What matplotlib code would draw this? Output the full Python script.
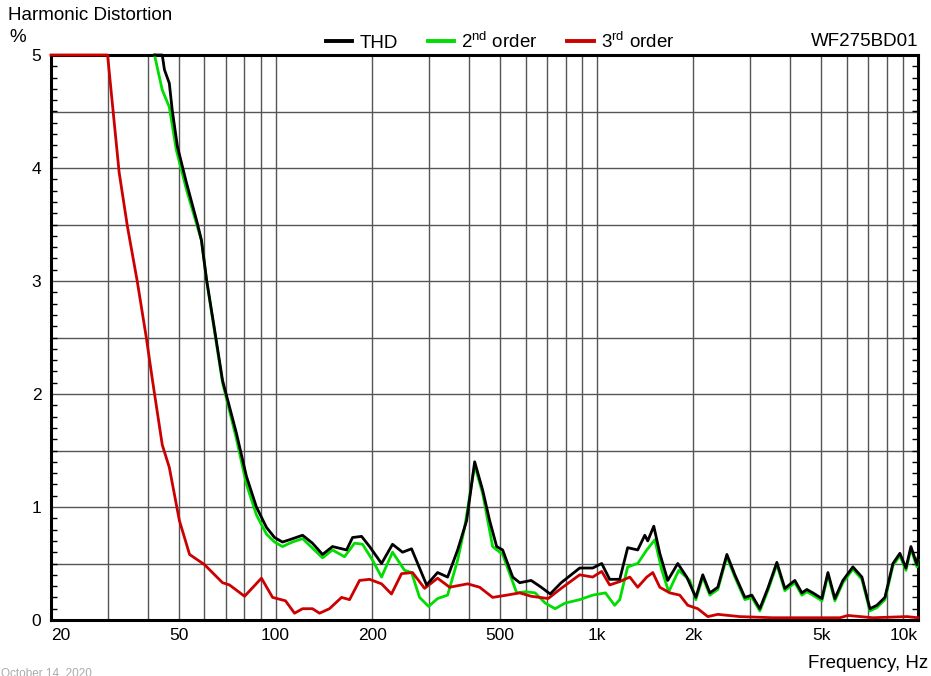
import matplotlib
matplotlib.use('Agg')
import matplotlib.pyplot as plt
from matplotlib.ticker import FixedLocator, MultipleLocator, NullFormatter

plt.rcParams['font.family'] = ['Liberation Sans', 'DejaVu Sans']
plt.rcParams['mathtext.fontset'] = 'custom'
plt.rcParams['mathtext.rm'] = 'Liberation Sans'

# THD
thd_f = [42.0, 44.4, 45.1, 46.7, 47.7, 49.5, 52.8, 57.1, 58.8, 61.0, 64.6, 68.4,
         75.6, 81.2, 87.2, 93.7, 99.3, 105.1, 110.5, 121.4, 130.3, 140.1, 150.4,
         166.4, 173.7, 185.3, 196.2, 213.8, 231.3, 248.5, 265.1, 295.3, 319.5,
         343.3, 368.9, 393.5, 416.8, 441.3, 464.0, 488.0, 509.4, 547.4, 575.6,
         624.8, 671.5, 716.1, 774.8, 884.9, 971.2, 1036, 1097, 1179, 1248, 1341,
         1411, 1441, 1505, 1571, 1663, 1787, 1906, 2034, 2138, 2249, 2381, 2541,
         2691, 2891, 3039, 3218, 3408, 3636, 3850, 4136, 4349, 4508, 4708, 5022,
         5243, 5511, 5837, 6271, 6690, 7085, 7447, 7888, 8354, 8784, 9172, 9506,
         9924, 10000]
thd_v = [5.0, 5.0, 4.87, 4.75, 4.51, 4.19, 3.87, 3.51, 3.36, 3.01, 2.57, 2.12,
         1.65, 1.27, 1.00, 0.82, 0.73, 0.69, 0.71, 0.75, 0.68, 0.58, 0.65,
         0.62, 0.73, 0.74, 0.65, 0.50, 0.67, 0.60, 0.63, 0.31, 0.42,
         0.38, 0.62, 0.88, 1.40, 1.15, 0.88, 0.65, 0.62, 0.38, 0.33,
         0.35, 0.29, 0.23, 0.33, 0.46, 0.46, 0.50, 0.36, 0.36, 0.64, 0.62,
         0.75, 0.70, 0.83, 0.59, 0.35, 0.50, 0.38, 0.20, 0.40, 0.24, 0.29, 0.58,
         0.40, 0.20, 0.22, 0.10, 0.28, 0.51, 0.28, 0.35, 0.24, 0.27, 0.24, 0.19,
         0.42, 0.19, 0.35, 0.47, 0.38, 0.10, 0.13, 0.20, 0.50, 0.59, 0.46, 0.65,
         0.49, 0.55]

# 2nd order
h2_f = [42.0, 44.4, 46.7, 49.1, 52.8, 56.7, 58.8, 61.0, 64.6, 68.4, 75.6, 81.2,
        87.2, 93.7, 99.3, 105.1, 112.9, 121.4, 140.1, 150.4, 164.0, 176.2, 186.6,
        200.4, 213.8, 231.3, 252.1, 265.1, 280.8, 299.5, 319.5, 343.3, 368.9,
        387.9, 416.8, 441.3, 474.1, 509.4, 563.3, 601.2, 643.0, 690.8, 742.1,
        797.4, 884.9, 971.2, 1064, 1137, 1179, 1248, 1341, 1431, 1516, 1594,
        1675, 1800, 1948, 2034, 2138, 2249, 2381, 2541, 2691, 2891, 3039, 3218,
        3408, 3636, 3850, 4136, 4349, 4508, 4708, 5022, 5243, 5511, 5837, 6271,
        6690, 7085, 7447, 7888, 8354, 8784, 9172, 9506, 9924, 10000]
h2_v = [5.0, 4.69, 4.54, 4.16, 3.81, 3.51, 3.36, 3.01, 2.55, 2.10, 1.60, 1.20,
        0.93, 0.76, 0.69, 0.65, 0.69, 0.72, 0.55, 0.62, 0.56, 0.68, 0.67,
        0.53, 0.38, 0.60, 0.44, 0.42, 0.20, 0.12, 0.19, 0.22, 0.53,
        0.82, 1.37, 1.12, 0.65, 0.58, 0.24, 0.25, 0.24, 0.15, 0.10,
        0.15, 0.18, 0.22, 0.24, 0.13, 0.18, 0.47, 0.50, 0.62, 0.71, 0.44,
        0.25, 0.44, 0.35, 0.18, 0.38, 0.22, 0.27, 0.56, 0.38, 0.18, 0.20, 0.08,
        0.26, 0.49, 0.26, 0.33, 0.22, 0.25, 0.22, 0.17, 0.40, 0.17, 0.33, 0.45,
        0.36, 0.08, 0.11, 0.18, 0.48, 0.57, 0.44, 0.63, 0.47, 0.53]

# 3rd order
h3_f = [20, 30, 32.6, 34.6, 37.1, 39.6, 41.4, 44.4, 46.7, 50.2, 54.0, 60.1, 68.4,
        71.9, 80.1, 90.4, 97.9, 107.4, 114.6, 121.4, 130.3, 137.1, 147.2, 160.5,
        170.0, 182.6, 196.2, 213.8, 229.6, 246.7, 267.0, 291.1, 319.5, 348.3,
        396.3, 431.9, 474.1, 524.3, 575.6, 624.8, 705.8, 774.8, 884.9, 971.2,
        1036, 1097, 1179, 1267, 1341, 1431, 1494, 1571, 1688, 1813, 1920, 2063,
        2217, 2381, 2788, 3533, 5713, 6050, 7239, 9238, 10000]
h3_v = [5.0, 5.0, 3.96, 3.48, 3.0, 2.5, 2.12, 1.55, 1.35, 0.88, 0.58, 0.49, 0.33,
        0.31, 0.21, 0.37, 0.20, 0.17, 0.06, 0.10, 0.10, 0.06, 0.10, 0.20,
        0.18, 0.35, 0.36, 0.32, 0.23, 0.41, 0.42, 0.28, 0.37, 0.29,
        0.32, 0.29, 0.20, 0.22, 0.24, 0.21, 0.19, 0.28, 0.40, 0.38,
        0.43, 0.31, 0.34, 0.38, 0.29, 0.38, 0.42, 0.29, 0.24, 0.22, 0.13, 0.10,
        0.03, 0.05, 0.03, 0.02, 0.02, 0.04, 0.02, 0.03, 0.02]

xgrid = [30, 40, 50, 60, 70, 80, 90, 100, 200, 300, 400, 500, 600, 700, 800, 900,
         1000, 2000, 3000, 4000, 5000, 6000, 7000, 8000, 9000]
xtick_vals = [20, 50, 100, 200, 500, 1000, 2000, 5000, 10000]
xtick_labels = ['20', '50', '100', '200', '500', '1k', '2k', '5k', '10k']

fig = plt.figure(figsize=(9.31, 6.76), dpi=100)
ax = fig.add_axes([51 / 931, 56 / 676, 867 / 931, 565 / 676])

ax.set_xscale('log')
ax.set_xlim(20, 10000)
ax.set_ylim(0, 5)

for xv in xgrid:
    ax.axvline(xv, color='#555555', lw=1.0, zorder=1)
for yv in [0.5, 1, 1.5, 2, 2.5, 3, 3.5, 4, 4.5]:
    ax.axhline(yv, color='#555555', lw=1.0, zorder=1)

l2, = ax.plot(h2_f, h2_v, color='#00dd00', lw=2.0, zorder=6, clip_on=False,
              label='2$^{\\mathrm{nd}}$ order', solid_joinstyle='round')
l3, = ax.plot(h3_f, h3_v, color='#cc0000', lw=2.0, zorder=6, clip_on=False,
              label='3$^{\\mathrm{rd}}$ order', solid_joinstyle='round')
l1, = ax.plot(thd_f, thd_v, color='black', lw=2.0, zorder=7, clip_on=False,
              label='THD', solid_joinstyle='round')

for s in ax.spines.values():
    s.set_linewidth(2.2)
    s.set_zorder(5)

ax.xaxis.set_major_locator(FixedLocator(xtick_vals))
ax.xaxis.set_minor_formatter(NullFormatter())
ax.xaxis.set_minor_locator(FixedLocator([]))
ax.set_xticklabels(xtick_labels)
ax.tick_params(axis='x', length=0, pad=6, labelsize=12.5)
tl = ax.get_xticklabels()
tl[0].set_horizontalalignment('left')
tl[-1].set_horizontalalignment('right')

ax.yaxis.set_major_locator(MultipleLocator(1))
ax.yaxis.set_minor_locator(MultipleLocator(0.1))
ax.tick_params(axis='y', which='major', length=0, pad=7, labelsize=12.5)
ax.tick_params(axis='y', which='minor', direction='in', length=4, width=1,
               left=True, right=True)

leg = ax.legend(handles=[l1, l2, l3], loc='center', bbox_to_anchor=(0.518, 1.024),
                ncol=3, frameon=False, fontsize=13.5, handlelength=1.4,
                handletextpad=0.37, columnspacing=1.6, borderaxespad=0)
for h in leg.get_lines():
    h.set_linewidth(2.8)

fig.text(8 / 931, 1 - 15 / 676, 'Harmonic Distortion', fontsize=13.5, va='center', ha='left')
fig.text(9 / 931, 1 - 38 / 676, '%', fontsize=13.5, va='center', ha='left')
fig.text(918 / 931, 1 - 42 / 676, 'WF275BD01', fontsize=13.5, va='center', ha='right')
fig.text(928 / 931, 1 - 663 / 676, 'Frequency, Hz', fontsize=13.5, va='center', ha='right')
fig.text(1 / 931, 1 - 673 / 676, 'October 14, 2020', fontsize=8.5, va='center', ha='left',
         color='#aaaaaa')

fig.savefig('out.png', dpi=100)
